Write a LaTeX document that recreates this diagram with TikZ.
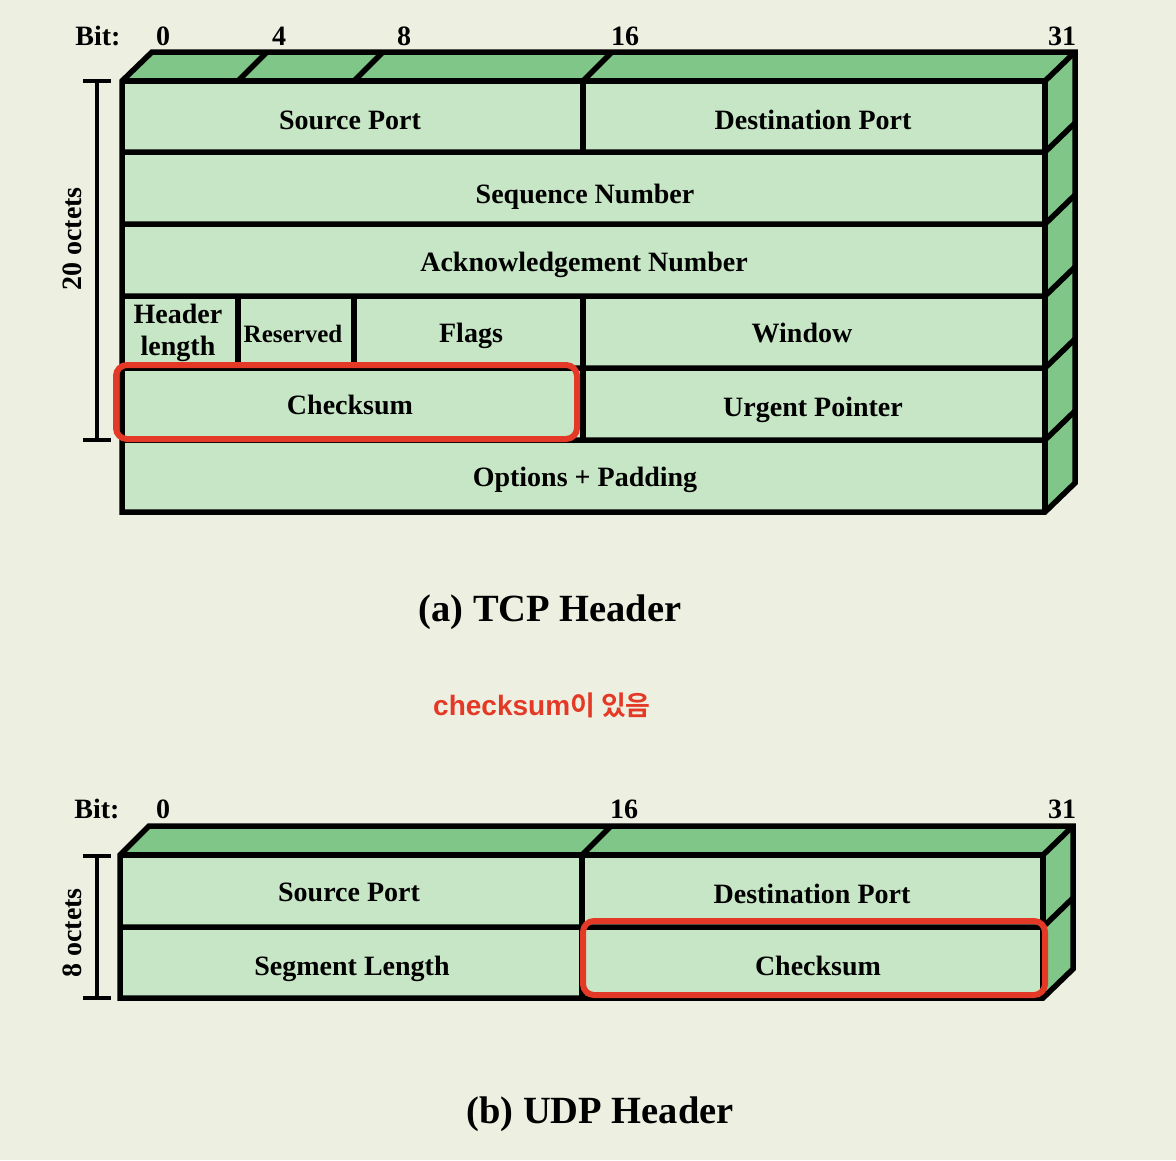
\documentclass[tikz,border=0pt]{standalone}
\usepackage{fontspec}
\setmainfont{Liberation Serif}
\newfontfamily\krb{Noto Sans CJK KR Bold}
\newfontfamily\sansb{Liberation Sans}
\definecolor{bg}{RGB}{237,240,225}
\definecolor{front}{RGB}{199,230,198}
\definecolor{dark}{RGB}{128,198,136}
\definecolor{hired}{RGB}{229,57,39}
\tikzset{
  edge/.style={line width=5.5pt, line join=miter},
  lbl/.style={font=\fontsize{28}{30}\selectfont\bfseries, anchor=base, inner sep=0pt},
  smalllbl/.style={font=\fontsize{25}{27}\selectfont\bfseries, anchor=base, inner sep=0pt},
  caplbl/.style={font=\fontsize{38.5}{42}\selectfont\bfseries, anchor=base, inner sep=0pt},
  redbox/.style={draw=hired, line width=6pt, rounded corners=11pt},
  bracket/.style={line width=4pt},
}
\begin{document}
\begin{tikzpicture}[x=1pt,y=-1pt]
\fill[bg] (0,0) rectangle (1176,1160);
\useasboundingbox (0,0) rectangle (1176,1160);

% ---------------- TCP ----------------
\fill[front] (122,81) rectangle (1045,512);
\fill[dark] (122,81) -- (152,52) -- (1075,52) -- (1045,81) -- cycle;
\fill[dark] (1045,81) -- (1075,52) -- (1075,483) -- (1045,512) -- cycle;
\draw[edge] (122,81) -- (152,52) -- (1075,52) -- (1075,483) -- (1045,512) -- (122,512) -- cycle;
\draw[edge] (122,81) -- (1045,81) -- (1045,512);
\draw[edge] (1045,81) -- (1075,52);
\foreach \yy in {152,224,296,368,440}{
  \draw[edge] (122,\yy) -- (1045,\yy) -- (1075,\yy-29);
}
\draw[edge] (583,81) -- (583,152);
\draw[edge] (238,296) -- (238,368);
\draw[edge] (354,296) -- (354,368);
\draw[edge] (583,296) -- (583,440);
\draw[edge] (238,81) -- (267,52);
\draw[edge] (354,81) -- (383,52);
\draw[edge] (583,81) -- (612,52);

% bit labels
\node[lbl] (tbit) at (98,45) {Bit:};
\node[lbl] (tb0) at (163,45) {0};
\node[lbl] (tb4) at (279,45) {4};
\node[lbl] (tb8) at (404,45) {8};
\node[lbl] (tb16) at (625,45) {16};
\node[lbl] (tb31) at (1062,45) {31};

% bracket
\draw[bracket] (83,81) -- (111,81);
\draw[bracket] (97,81) -- (97,440);
\draw[bracket] (83,440) -- (111,440);
\node[font=\fontsize{28}{30}\selectfont\bfseries, rotate=90, inner sep=0pt] (toct) at (72,239) {20 octets};

% fields
\node[lbl] (tsrc) at (350,129) {Source Port};
\node[lbl] (tdst) at (813,129) {Destination Port};
\node[lbl] (tseq) at (585,203) {Sequence Number};
\node[lbl] (tack) at (584,271) {Acknowledgement Number};
\node[lbl] (thl1) at (178,323) {Header};
\node[lbl] (thl2) at (178,355) {length};
\node[smalllbl] (tres) at (293,342) {Reserved};
\node[lbl] (tflg) at (471,342) {Flags};
\node[lbl] (twin) at (802,342) {Window};
\node[lbl] (tchk) at (350,414) {Checksum};
\node[lbl] (turg) at (813,416) {Urgent Pointer};
\node[lbl] (topt) at (585,486) {Options + Padding};

\draw[redbox] (116,365) rectangle (577,439);

\node[caplbl] (capa) at (550,621) {(a) TCP Header};

\node[text=hired, anchor=base, inner sep=0pt] (note) at (542,715) {{\sansb\bfseries\fontsize{28}{30}\selectfont checksum}{\krb\fontsize{27}{30}\selectfont 이 있음}};

% ---------------- UDP ----------------
\fill[front] (120,855) rectangle (1043,998);
\fill[dark] (120,855) -- (149,826) -- (1073,826) -- (1043,855) -- cycle;
\fill[dark] (1043,855) -- (1073,826) -- (1073,969) -- (1043,998) -- cycle;
\draw[edge] (120,855) -- (149,826) -- (1073,826) -- (1073,969) -- (1043,998) -- (120,998) -- cycle;
\draw[edge] (120,855) -- (1043,855) -- (1043,998);
\draw[edge] (1043,855) -- (1073,826);
\draw[edge] (120,927) -- (1043,927) -- (1073,898);
\draw[edge] (582,855) -- (582,998);
\draw[edge] (582,855) -- (611,826);

\node[lbl] (ubit) at (97,818) {Bit:};
\node[lbl] (ub0) at (163,818) {0};
\node[lbl] (ub16) at (624,818) {16};
\node[lbl] (ub31) at (1062,818) {31};

\draw[bracket] (83,856) -- (111,856);
\draw[bracket] (97,856) -- (97,998);
\draw[bracket] (83,998) -- (111,998);
\node[font=\fontsize{28}{30}\selectfont\bfseries, rotate=90, inner sep=0pt] (uoct) at (72,933) {8 octets};

\node[lbl] (usrc) at (349,901) {Source Port};
\node[lbl] (udst) at (812,903) {Destination Port};
\node[lbl] (ulen) at (352,975) {Segment Length};
\node[lbl] (uchk) at (818,975) {Checksum};

\draw[redbox] (583,921) rectangle (1045,995);

\node[caplbl] (capb) at (600,1123) {(b) UDP Header};
\end{tikzpicture}
\end{document}
